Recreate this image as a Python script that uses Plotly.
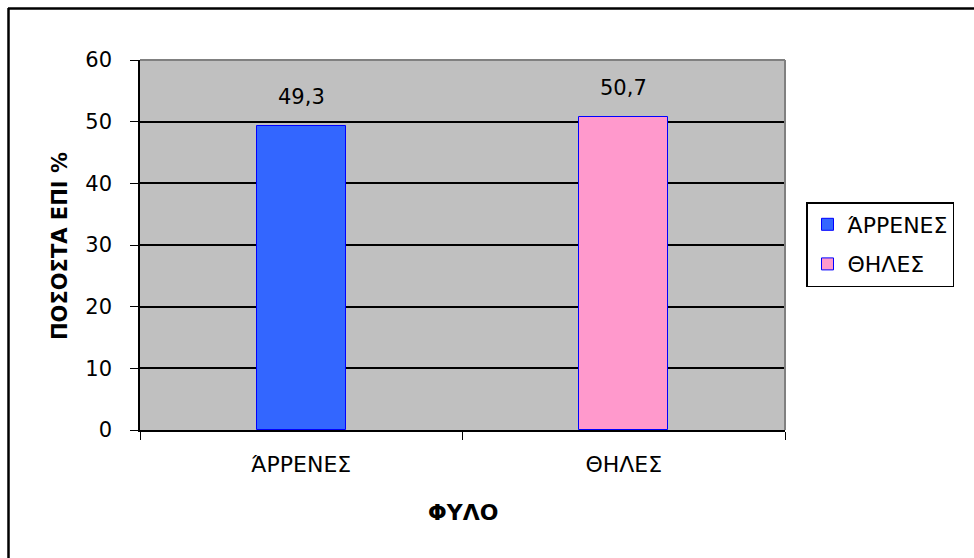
import plotly.graph_objects as go

# Gender breakdown (percent)
categories = ["ΆΡΡΕΝΕΣ", "ΘΗΛΕΣ"]
values = [49.3, 50.7]
fill_colors = ["#3366FF", "#FF99CC"]
y_ticks = [0, 10, 20, 30, 40, 50, 60]

FONT = "DejaVu Sans"
W, H = 974, 558
L, R, T, B = 140, 189, 60, 128
PW, PH = W - L - R, H - T - B


def px_x(px):
    return (px - L) / PW


def px_y(py):
    return (H - B - py) / PH


fig = go.Figure()
for cat, val, col in zip(categories, values, fill_colors):
    fig.add_trace(go.Bar(
        x=[cat], y=[val], name=cat, legendgroup=cat, width=0.276,
        marker=dict(color=col, line=dict(color="#0000FF", width=1)),
        hoverinfo="skip",
    ))
    fig.add_annotation(
        x=cat, y=val, text=f"{val:.1f}".replace(".", ","),
        showarrow=False, yanchor="bottom", yshift=15,
        font=dict(family=FONT, size=21, color="black"),
    )

# axis titles
fig.add_annotation(
    xref="paper", yref="paper", x=px_x(60), y=px_y(246),
    xanchor="center", yanchor="middle",
    text="<b>ΠΟΣΟΣΤΑ ΕΠΙ %</b>", textangle=-90, showarrow=False,
    font=dict(family=FONT, size=21, color="black"),
)
fig.add_annotation(
    xref="paper", yref="paper", x=0.5, y=px_y(512),
    xanchor="center", yanchor="middle",
    text="<b>ΦΥΛΟ</b>", showarrow=False,
    font=dict(family=FONT, size=22, color="black"),
)

# outer chart frame (top and left edges) and plot-area border
fig.add_shape(type="line", xref="paper", yref="paper",
              x0=px_x(8), x1=px_x(W + 20), y0=px_y(8.5), y1=px_y(8.5),
              line=dict(color="black", width=2.5))
fig.add_shape(type="line", xref="paper", yref="paper",
              x0=px_x(8.5), x1=px_x(8.5), y0=px_y(8), y1=px_y(H + 20),
              line=dict(color="black", width=2.5))
fig.add_shape(type="line", xref="paper", yref="paper",
              x0=0, x1=1, y0=1, y1=1, line=dict(color="#808080", width=2))
fig.add_shape(type="line", xref="paper", yref="paper",
              x0=1, x1=1, y0=0, y1=1, line=dict(color="#808080", width=2))

fig.update_layout(
    width=W, height=H,
    margin=dict(l=L, r=R, t=T, b=B),
    paper_bgcolor="white", plot_bgcolor="#C0C0C0",
    barmode="overlay", bargap=0,
    separators=",.",
    font=dict(family=FONT, size=20, color="black"),
    showlegend=True,
    legend=dict(
        x=px_x(806), y=px_y(202), xanchor="left", yanchor="top",
        bgcolor="white", bordercolor="black", borderwidth=1.5,
        font=dict(family=FONT, size=22, color="black"),
        itemwidth=30, tracegroupgap=8,
    ),
    xaxis=dict(
        type="category", range=[-0.5, 1.5],
        showline=True, linecolor="black", linewidth=1.5,
        ticks="outside", tickson="boundaries", ticklen=8, tickcolor="black",
        ticklabelstandoff=14, showgrid=False, zeroline=False,
        tickfont=dict(family=FONT, size=22),
    ),
    yaxis=dict(
        range=[0, 60], tickvals=y_ticks,
        showline=True, linecolor="black", linewidth=1.5,
        ticks="outside", ticklen=8, tickcolor="black",
        ticklabelstandoff=14,
        showgrid=True, gridcolor="black", gridwidth=1.5,
        zeroline=False,
        tickfont=dict(family=FONT, size=21),
    ),
)

fig.write_html("out.html")
